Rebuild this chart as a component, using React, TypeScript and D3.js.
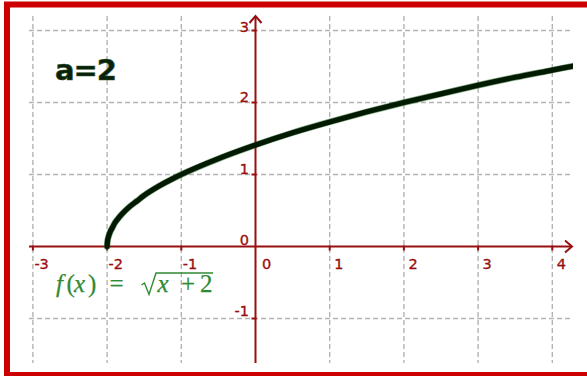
import React from "react";
import * as d3 from "d3";

const xTicks = [-3, -2, -1, 0, 1, 2, 3, 4];
const yTicks = [-1, 0, 1, 2, 3];
const curveX = [-2, -1.995, -1.98, -1.96, -1.93, -1.9, -1.85, -1.8, -1.7, -1.6, -1.5, -1.3, -1.1, -1, -0.5, 0, 0.5, 1, 1.5, 2, 2.5, 3, 3.5, 4, 4.3];
const curveY = [0, 0.07, 0.14, 0.2, 0.26, 0.32, 0.39, 0.45, 0.55, 0.63, 0.71, 0.84, 0.95, 1, 1.22, 1.41, 1.58, 1.73, 1.87, 2, 2.12, 2.24, 2.35, 2.45, 2.51];
const paramLabel = "a=2";

const W = 587;
const H = 376;
const AX = "#990f0f";
const GRID = "#b3b3b3";

export default function App() {
  const x = d3.scaleLinear().domain([0, 1]).range([255.5, 329.7]);
  const y = d3.scaleLinear().domain([0, 1]).range([246.5, 174.5]);
  const left = 29, right = 573, top = 16, bottom = 363;
  const xAxisEnd = 572;
  const pts: [number, number][] = curveX.map((v, i) => [v, curveY[i]]);
  const line = d3.line<[number, number]>().x(d => x(d[0])).y(d => y(d[1])).curve(d3.curveMonotoneX);
  const x0 = x(0), y0 = y(0);
  const labelFont = "'DejaVu Sans', 'Liberation Sans', sans-serif";
  const serif = "'Liberation Serif', 'Times New Roman', serif";
  const green = "#2f8a34";
  const fy = 291.5;
  return (
    <svg width={W} height={H} style={{ position: "absolute", left: 0, top: 0, background: "#fff" }}>
      <defs>
        <clipPath id="plotClip">
          <rect x={0} y={0} width={573} height={H} />
        </clipPath>
      </defs>
      <rect x={0} y={0} width={W} height={H} fill="#fff" />
      {/* grid */}
      {xTicks.filter(t => t !== 0).map(t => (
        <line key={"gx" + t} x1={x(t)} x2={x(t)} y1={top} y2={bottom} stroke={GRID} strokeWidth={1.4} strokeDasharray="5,3" />
      ))}
      {yTicks.filter(t => t !== 0).map(t => (
        <line key={"gy" + t} x1={left} x2={right} y1={y(t)} y2={y(t)} stroke={GRID} strokeWidth={1.4} strokeDasharray="5,3" />
      ))}
      {/* axes */}
      <line x1={left} x2={xAxisEnd} y1={y0} y2={y0} stroke={AX} strokeWidth={2} />
      <path d={`M${xAxisEnd - 7},${y0 - 6} L${xAxisEnd},${y0} L${xAxisEnd - 7},${y0 + 6}`} fill="none" stroke={AX} strokeWidth={2} />
      <line x1={x0} x2={x0} y1={bottom} y2={top} stroke={AX} strokeWidth={2} />
      <path d={`M${x0 - 6},${top + 7} L${x0},${top} L${x0 + 6},${top + 7}`} fill="none" stroke={AX} strokeWidth={2} />
      {/* ticks */}
      {xTicks.filter(t => t !== 0).map(t => (
        <line key={"tx" + t} x1={x(t)} x2={x(t)} y1={y0 - 1} y2={y0 + 4} stroke={AX} strokeWidth={2} />
      ))}
      {yTicks.filter(t => t !== 0).map(t => (
        <line key={"ty" + t} x1={x0 - 4} x2={x0 + 1} y1={y(t)} y2={y(t)} stroke={AX} strokeWidth={2} />
      ))}
      {/* tick labels */}
      {xTicks.map(t => (
        <text key={"lx" + t} x={x(t) + (t < 0 ? 1.5 : t === 0 ? 6.5 : 4.5)} y={268.5} fill={AX} stroke={AX} strokeWidth={0.35} fontFamily={labelFont} fontSize={14.5}>{String(t)}</text>
      ))}
      {yTicks.map(t => (
        <text key={"ly" + t} x={249} y={y(t) - (t === 0 ? 1.5 : t < 0 ? 3 : t === 3 ? -1 : 0.5)} textAnchor="end" fill={AX} stroke={AX} strokeWidth={0.35} fontFamily={labelFont} fontSize={14.5}>{String(t)}</text>
      ))}
      {/* curve */}
      <g clipPath="url(#plotClip)">
        <path d={line(pts) || ""} fill="none" stroke="#2f6b2f" strokeWidth={6.5} strokeLinecap="round" strokeLinejoin="round" opacity={0.6} />
        <path d={line(pts) || ""} fill="none" stroke="#021a02" strokeWidth={5.2} strokeLinecap="round" strokeLinejoin="round" />
      </g>
      {/* parameter label */}
      <text x={55} y={79.5} fontFamily={labelFont} fontWeight="bold" fontSize={29} letterSpacing={-1} fill="#0b200b" stroke="#2a5a2a" strokeWidth={0.6}>{paramLabel}</text>
      {/* formula */}
      <text y={fy} fill={green} stroke={green} strokeWidth={0.25} fontFamily={serif} fontSize={25}>
        <tspan x={56} fontStyle="italic">f</tspan>
        <tspan x={66.5}>(</tspan>
        <tspan x={74} fontStyle="italic">x</tspan>
        <tspan x={88}>)</tspan>
        <tspan x={109.5}>=</tspan>
        <tspan x={157.5} fontStyle="italic">x</tspan>
        <tspan x={181}>+</tspan>
        <tspan x={200}>2</tspan>
      </text>
      <path d={`M141.5,285 L144.5,283 L149,294.5 L156,273 L213,273`} fill="none" stroke={green} strokeWidth={1.4} strokeLinejoin="miter" />
      {/* frame */}
      <rect x={7} y={4.5} width={620} height={370.5} fill="none" stroke="#cc0000" strokeWidth={6} />
    </svg>
  );
}
